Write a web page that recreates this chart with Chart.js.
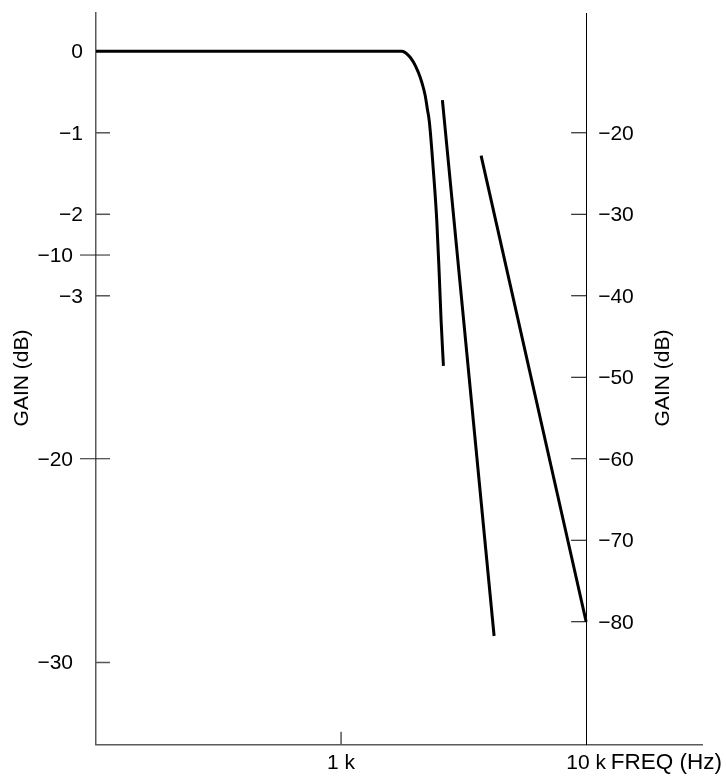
<!DOCTYPE html>
<html>
<head>
<meta charset="utf-8">
<script src="https://cdn.jsdelivr.net/npm/chart.js@4.4.0/dist/chart.umd.min.js"></script>
<style>
  html, body { margin: 0; padding: 0; background: #fff; }
  #wrap { width: 726px; height: 779px; }
</style>
</head>
<body>
<div id="wrap"><canvas id="gain-chart"></canvas></div>
<script>
// passband curve, read on the left 0 .. -3 dB scale
const passFreq = [100, 1000, 1700, 1770, 1883, 1973, 2068, 2135, 2203, 2250, 2293, 2381, 2458, 2512, 2560, 2616];
const passGain = [0, 0, 0, 0, -0.05, -0.13, -0.26, -0.38, -0.54, -0.71, -0.87, -1.47, -2.08, -2.70, -3.31, -3.86];
// transition curve, left -10 .. -30 dB scale
const midFreq = [2591, 4212];
const midGain = [-2.4, -28.7];
// stopband curve, right -20 .. -80 dB scale
const stopFreq = [3727, 10000];
const stopGain = [-22.8, -80];

// tick labels
const freqTicks = [1000, 10000];
const freqLabels = ['1 k', '10 k'];
const leftFineTicks = [0, -1, -2, -3];
const leftCoarseTicks = [-10, -20, -30];
const rightTicks = [-20, -30, -40, -50, -60, -70, -80];

const FAMILY = '"Liberation Sans", Arial, sans-serif';
const FONT = '21px ' + FAMILY;
const minus = v => (v < 0 ? '\u2212' + Math.abs(v) : String(v));
const pts = (xs, ys) => xs.map((x, i) => ({ x: x, y: ys[i] }));

// tick marks, tick labels and the two axis titles
const axisMarks = {
    id: 'axisMarks',
    afterDraw(chart) {
        const { ctx, chartArea, scales } = chart;
        const fine = scales.yFine, coarse = scales.yCoarse, right = scales.yRight, x = scales.x;
        const left = chartArea.left;
        const axisX = x.getPixelForValue(10000);
        const line = (x1, y1, x2, y2) => { ctx.beginPath(); ctx.moveTo(x1, y1); ctx.lineTo(x2, y2); ctx.stroke(); };

        ctx.save();
        ctx.font = FONT;
        ctx.fillStyle = '#000';
        ctx.textBaseline = 'middle';

        // left, fine scale
        ctx.strokeStyle = '#555';
        ctx.lineWidth = 1.5;
        ctx.textAlign = 'right';
        leftFineTicks.forEach(v => {
            const y = fine.getPixelForValue(v);
            if (v !== 0) line(left, y, left + 14, y);
            ctx.fillText(minus(v), left - 13, y + 1);
        });
        // left, coarse scale
        leftCoarseTicks.forEach(v => {
            const y = coarse.getPixelForValue(v);
            const out = v === -30 ? 0 : 16;
            ctx.strokeStyle = out ? '#222' : '#555';
            ctx.lineWidth = out ? 1 : 1.5;
            line(left - out, y, left + 14, y);
            ctx.fillText(minus(v), left - 23, y + 1);
        });

        // right scale, drawn at 10 kHz
        ctx.strokeStyle = '#000';
        ctx.lineWidth = 1;
        ctx.textAlign = 'left';
        rightTicks.forEach(v => {
            const y = right.getPixelForValue(v);
            line(axisX - 15, y, axisX, y);
            ctx.fillText(minus(v), axisX + 12, y + 1);
        });

        // 1 k tick on the frequency axis
        ctx.strokeStyle = '#555';
        ctx.lineWidth = 1.5;
        const px = x.getPixelForValue(1000);
        line(px, chartArea.bottom - 13, px, chartArea.bottom);

        // FREQ (Hz) beside the 10 k label
        ctx.save();
        ctx.font = '22.5px ' + FAMILY;
        ctx.textAlign = 'right';
        ctx.fillText('FREQ (Hz)', 722, 763);
        ctx.restore();

        // titles
        [[22, 378], [663, 378]].forEach(([tx, ty]) => {
            ctx.save();
            ctx.translate(tx, ty);
            ctx.rotate(-Math.PI / 2);
            ctx.textAlign = 'center';
            ctx.fillText('GAIN (dB)', 0, 0);
            ctx.restore();
        });
        ctx.restore();
    }
};

const curveStyle = {
    borderColor: '#000',
    borderWidth: 3,
    pointRadius: 0,
    fill: false
};

const gainChart = new Chart(document.getElementById('gain-chart'), {
    type: 'line',
    data: {
        datasets: [
            Object.assign({ label: 'passband', data: pts(passFreq, passGain), yAxisID: 'yFine', cubicInterpolationMode: 'monotone' }, curveStyle),
            Object.assign({ label: 'transition', data: pts(midFreq, midGain), yAxisID: 'yCoarse' }, curveStyle),
            Object.assign({ label: 'stopband', data: pts(stopFreq, stopGain), yAxisID: 'yRight' }, curveStyle)
        ]
    },
    options: {
        responsive: true,
        maintainAspectRatio: false,
        animation: false,
        layout: { padding: { left: 96, right: 24, top: 13, bottom: -3 } },
        plugins: {
            legend: { display: false },
            tooltip: { enabled: false }
        },
        scales: {
            x: {
                type: 'logarithmic',
                min: 100,
                max: 29700,
                afterBuildTicks: s => { s.ticks = freqTicks.map(v => ({ value: v })); },
                ticks: {
                    callback: (v, i) => freqLabels[i],
                    font: { family: FAMILY, size: 21 },
                    color: '#000',
                    padding: 6,
                    maxRotation: 0,
                    autoSkip: false
                },
                grid: { display: false, drawTicks: false },
                border: { color: '#5a5a5a', width: 1.5 }
            },
            yFine: {
                type: 'linear',
                position: 'left',
                min: -8.51,
                max: 0.47,
                ticks: { display: false },
                grid: { display: false, drawTicks: false },
                border: { color: '#5a5a5a', width: 1.5 }
            },
            yCoarse: {
                type: 'linear',
                position: 'left',
                display: false,
                min: -34.04,
                max: 1.88
            },
            yRight: {
                type: 'linear',
                position: { x: 10000 },
                min: -95.1,
                max: -5.3,
                ticks: { display: false },
                grid: { display: false, drawTicks: false },
                border: { color: '#000', width: 1 }
            }
        }
    },
    plugins: [axisMarks]
});
</script>
</body>
</html>
